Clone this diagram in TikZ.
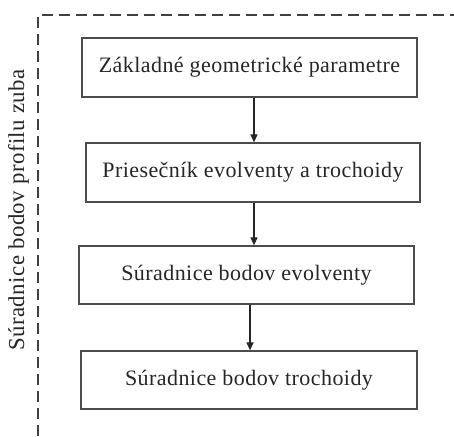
\documentclass[tikz,border=0pt]{standalone}
\usepackage{fontspec}
\setmainfont[LetterSpace=2]{Liberation Serif}
\usetikzlibrary{arrows.meta}
\begin{document}
\begin{tikzpicture}[x=1pt,y=-1pt,
  stepbox/.style={draw=black!70,line width=1.3pt,minimum height=59pt,inner sep=0pt,
    font=\fontsize{22}{26}\selectfont,text=black!85},
  conn/.style={black!85,line width=1.2pt,-{Triangle[width=7pt,length=8pt]}},
  frame/.style={black!75,line width=1.3pt,dash pattern=on 11pt off 6pt}]
\useasboundingbox (0,0) rectangle (454,436);
\node[stepbox,minimum width=335pt] (b1) at (249.5,67.5) {Základné geometrické parametre};
\node[stepbox,minimum width=334pt] (b2) at (253,172.5) {Priesečník evolventy a trochoidy};
\node[stepbox,minimum width=335pt,minimum height=58pt] (b3) at (246.5,275) {Súradnice bodov evolventy};
\node[stepbox,minimum width=336pt,minimum height=58pt] (b4) at (249,380) {Súradnice bodov trochoidy};
\coordinate (ax1) at (254,0);
\coordinate (ax3) at (250,0);
\draw[conn] (b1.south -| ax1) -- (b2.north -| ax1);
\draw[conn] (b2.south -| ax1) -- (b3.north -| ax1);
\draw[conn] (b3.south -| ax3) -- (b4.north -| ax3);
\coordinate (fbot) at (38,436);
\coordinate (fcorner) at (38,15);
\coordinate (fright) at (454,15);
\draw[frame] (fbot) -- (fcorner) -- (fright);
\node[rotate=90,font=\fontsize{22.8}{26}\selectfont,text=black!85,inner sep=0pt] (lbl) at (18.5,210) {Súradnice bodov profilu zuba};
\end{tikzpicture}
\end{document}
